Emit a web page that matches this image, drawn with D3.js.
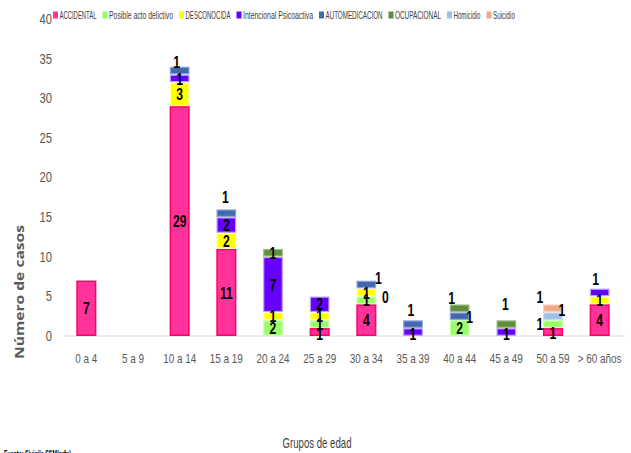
<!DOCTYPE html>
<html>
<head>
<meta charset="utf-8">
<script src="https://cdn.jsdelivr.net/npm/d3@7"></script>
<style>
  html, body { margin: 0; padding: 0; background: #fff; }
  svg { display: block; }
</style>
</head>
<body>
<svg id="chart" width="631" height="453"></svg>
<script>
// ---------- DATA ----------
const categories = ["0 a 4", "5 a 9", "10 a 14", "15 a 19", "20 a 24", "25 a 29",
  "30 a 34", "35 a 39", "40 a 44", "45 a 49", "50 a 59", "> 60 años"];
const seriesNames = ["ACCIDENTAL", "Posible acto delictivo", "DESCONOCIDA",
  "Intencional Psicoactiva", "AUTOMEDICACION", "OCUPACIONAL", "Homicidio", "Suicidio"];
// null = no segment / no data label
const accidental   = [7, null, 29, 11, null, 1, 4, null, null, null, 1, 4];
const posible      = [null, null, null, null, 2, 1, 1, null, 2, null, 1, null];
const desconocida  = [null, null, 3, 2, 1, 1, 1, null, null, null, null, 1];
const intencional  = [null, null, 1, 2, 7, 2, null, 1, null, 1, null, 1];
const automedic    = [null, null, 1, 1, null, null, 1, 1, 1, null, null, null];
const ocupacional  = [null, null, null, null, 1, null, 0, null, 1, 1, null, null];
const homicidio    = [null, null, null, null, null, null, null, null, null, null, 1, null];
const suicidio     = [null, null, null, null, null, null, null, null, null, null, 1, null];
const yTicks = [0, 5, 10, 15, 20, 25, 30, 35, 40];

const seriesValues = [accidental, posible, desconocida, intencional, automedic, ocupacional, homicidio, suicidio];

// ---------- STYLE ----------
const colors = ["#FF3399", "#99FF66", "#FFFF00", "#6600FF", "#4168B0", "#5E8E3C", "#9EC0E4", "#F2A88A"];
const strokes = ["#FF0066", "#C8FFB0", "#FFFF99", "#B8A4F5", "#8EA6D6", "#9DBA88", "#C9DBF0", "#F7CDBB"];
const legendTextWidths = [37, 64, 45, 70, 57, 46, 27, 22]; // condensed legend font widths
const FONT = "'Liberation Sans', Arial, sans-serif";

// label offsets (px) relative to segment centre, for Excel-style placements
const labelOffsets = {
  "10 a 14|AUTOMEDICACION": [-3, -9],
  "15 a 19|AUTOMEDICACION": [-1, -16],
  "30 a 34|AUTOMEDICACION": [12, -7],
  "30 a 34|OCUPACIONAL": [19, 16],
  "35 a 39|AUTOMEDICACION": [-2, -14],
  "35 a 39|Intencional Psicoactiva": [0, 2],
  "40 a 44|AUTOMEDICACION": [10, 1],
  "40 a 44|OCUPACIONAL": [-8, -10],
  "45 a 49|OCUPACIONAL": [-1, -20],
  "45 a 49|Intencional Psicoactiva": [0, 2],
  "50 a 59|ACCIDENTAL": [0, 1],
  "50 a 59|Posible acto delictivo": [-13, 0],
  "50 a 59|Homicidio": [9, -6],
  "50 a 59|Suicidio": [-13, -11],
  "> 60 años|Intencional Psicoactiva": [-4, -14],
  "25 a 29|ACCIDENTAL": [0, 2]
};

const svg = d3.select("#chart");

const x = d3.scaleBand().domain(categories).range([63, 623]).paddingInner(0.57).paddingOuter(0.285);
const y = d3.scaleLinear().domain([0, 40]).range([336, 19]);

// horizontally compress text by a factor (mimics a condensed font)
function squeeze(sel, factor) {
  sel.each(function() {
    const len = this.getComputedTextLength();
    if (len > 0) {
      d3.select(this).attr("textLength", len * factor).attr("lengthAdjust", "spacingAndGlyphs");
    }
  });
}
function measure(str, size, weight) {
  const t = svg.append("text").attr("font-family", FONT).attr("font-size", size)
    .attr("font-weight", weight || "normal").text(str);
  const w = t.node().getComputedTextLength();
  t.remove();
  return w;
}

// baseline
svg.append("line")
  .attr("x1", 63).attr("x2", 625)
  .attr("y1", y(0)).attr("y2", y(0))
  .attr("stroke", "#D9D9D9").attr("stroke-width", 1);

// y axis
const yAxis = d3.axisLeft(y).tickValues(yTicks).tickSize(0).tickPadding(0);
const yg = svg.append("g").attr("transform", "translate(52,0)").call(yAxis);
yg.select(".domain").remove();
yg.selectAll("text").attr("font-family", FONT).attr("font-size", 14).attr("fill", "#595959");
squeeze(yg.selectAll("text"), 12.5 / measure("35", 14));

// x axis
const xAxis = d3.axisBottom(x).tickSize(0).tickPadding(0);
const xg = svg.append("g").attr("transform", "translate(0,353)").call(xAxis);
xg.select(".domain").remove();
xg.selectAll("text").attr("font-family", FONT).attr("font-size", 13.5).attr("fill", "#595959");
squeeze(xg.selectAll("text"), 33 / measure("10 a 14", 13.5));

// stacked data
const table = categories.map((c, i) => {
  const row = { cat: c };
  seriesNames.forEach((s, j) => { row[s] = seriesValues[j][i] || 0; });
  return row;
});
const stack = d3.stack().keys(seriesNames)(table);

const layers = svg.append("g").selectAll("g")
  .data(stack).join("g")
  .attr("fill", (d, i) => colors[i])
  .attr("stroke", (d, i) => strokes[i]);

layers.selectAll("rect")
  .data((d, i) => d.map((p, k) => ({ p, k, si: i })).filter(o => o.p[1] - o.p[0] > 0))
  .join("rect")
  .attr("x", o => x(categories[o.k]) + 0.75)
  .attr("width", x.bandwidth() - 1.5)
  .attr("y", o => y(o.p[1]) + 0.75)
  .attr("height", o => y(o.p[0]) - y(o.p[1]) - 1.5)
  .attr("stroke-width", o => o.si === 0 ? 1.5 : 1.2);

// data labels
const labels = [];
stack.forEach((layer, si) => {
  layer.forEach((p, k) => {
    const v = seriesValues[si][k];
    if (v === null || v === undefined) return;
    const key = categories[k] + "|" + seriesNames[si];
    const off = labelOffsets[key] || [0, 0];
    labels.push({
      text: String(v),
      x: x(categories[k]) + x.bandwidth() / 2 + off[0],
      y: (y(p[0]) + y(p[1])) / 2 + off[1]
    });
  });
});
const lt = svg.append("g").selectAll("text").data(labels).join("text")
  .attr("x", d => d.x).attr("y", d => d.y)
  .attr("dy", "0.36em")
  .attr("text-anchor", "middle")
  .attr("font-family", FONT)
  .attr("font-weight", "bold")
  .attr("font-size", 17)
  .attr("fill", "#000")
  .text(d => d.text);
squeeze(lt, 13.5 / measure("29", 17, "bold"));

// legend
const lg = svg.append("g");
let lx = 53;
seriesNames.forEach((s, i) => {
  lg.append("rect").attr("x", lx).attr("y", 11.5).attr("width", 5).attr("height", 7).attr("fill", colors[i]);
  const len = legendTextWidths[i];
  lg.append("text").attr("x", lx + 6.5).attr("y", 19)
    .attr("font-family", FONT).attr("font-size", 10.5).attr("fill", "#404040")
    .attr("textLength", len).attr("lengthAdjust", "spacingAndGlyphs")
    .text(s);
  lx += 6.5 + len + 6;
});

// axis titles
svg.append("text")
  .attr("transform", "translate(24,292) rotate(-90)")
  .attr("text-anchor", "middle")
  .attr("font-family", "'Open Sans', sans-serif")
  .attr("font-weight", "bold").attr("font-size", 13)
  .attr("fill", "#595959")
  .attr("textLength", 134).attr("lengthAdjust", "spacingAndGlyphs")
  .text("Número de casos");

const xt = svg.append("text")
  .attr("x", 317).attr("y", 448)
  .attr("text-anchor", "middle")
  .attr("font-family", FONT)
  .attr("font-size", 15).attr("fill", "#404040").text("Grupos de edad");
squeeze(xt, 69 / measure("Grupos de edad", 15));

const ft = svg.append("text")
  .attr("x", 4).attr("y", 458)
  .attr("font-family", FONT)
  .attr("font-weight", "bold").attr("font-size", 10)
  .attr("fill", "#000").text("Fuente: Sivigila SSM(prfn)");
squeeze(ft, 67 / measure("Fuente: Sivigila SSM(prfn)", 10, "bold"));
</script>
</body>
</html>
